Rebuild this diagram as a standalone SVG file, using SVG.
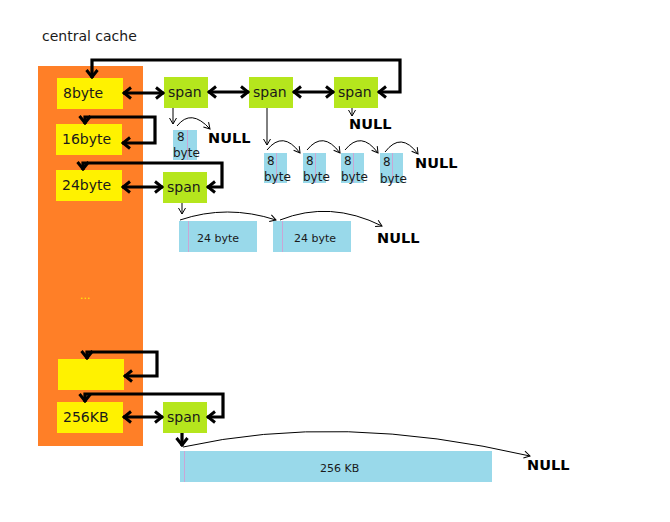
<svg xmlns="http://www.w3.org/2000/svg" width="670" height="522" viewBox="0 0 670 522">
<style>
text{font-family:"DejaVu Sans","Liberation Sans",sans-serif;fill:#1a1a1a}
.lbl{font-size:14px}
.sm{font-size:12px}
.xs{font-size:11px}
.null{font-size:14.5px;font-weight:bold;fill:#000}
.yel{fill:#fff200}
.grn{fill:#b5e61d}
.blu{fill:#99d9ea}
.pk{stroke:#c9a6d6;stroke-width:1}
.thick{fill:none;stroke:#000;stroke-width:3.2;marker-end:url(#ah);marker-start:url(#ah)}
.thin{fill:none;stroke:#000;stroke-width:1;marker-end:url(#ta)}
.down{fill:none;stroke:#000;stroke-width:3.2;marker-end:url(#ah)}
</style>
<defs>
<marker id="ah" markerUnits="userSpaceOnUse" markerWidth="12" markerHeight="14" viewBox="0 0 12 14" refX="11" refY="7" orient="auto-start-reverse">
<path d="M3,1.5 L10,7 L3,12.5" fill="none" stroke="#000" stroke-width="3"/>
</marker>
<marker id="ta" markerUnits="userSpaceOnUse" markerWidth="9" markerHeight="9" viewBox="0 0 9 9" refX="8" refY="4.5" orient="auto">
<path d="M2,1 L8,4.5 L2,8" fill="none" stroke="#000" stroke-width="1"/>
</marker>
</defs>
<text class="lbl" x="42" y="41">central cache</text>
<g id="central-cache"><rect x="38" y="66" width="105" height="380" fill="#ff7f27"/>
<text class="xs" x="80" y="299" style="fill:#fff200">...</text></g>
<g id="n8byte"><rect class="yel" x="57" y="78" width="66" height="31"/><text class="lbl" x="63" y="98">8byte</text></g>
<g id="n16byte"><rect class="yel" x="56" y="124" width="66" height="31"/><text class="lbl" x="62" y="144">16byte</text></g>
<g id="n24byte"><rect class="yel" x="56" y="170" width="66" height="31"/><text class="lbl" x="62" y="190">24byte</text></g>
<g id="nempty"><rect class="yel" x="58" y="359" width="66" height="31"/></g>
<g id="n256KB"><rect class="yel" x="57" y="402" width="66" height="31"/><text class="lbl" x="63" y="422">256KB</text></g>
<g id="span1"><rect class="grn" x="164" y="77" width="44" height="31"/><text class="lbl" x="168" y="97">span</text></g>
<g id="span2"><rect class="grn" x="249" y="77" width="44" height="31"/><text class="lbl" x="253" y="97">span</text></g>
<g id="span3"><rect class="grn" x="334" y="77" width="44" height="31"/><text class="lbl" x="338" y="97">span</text></g>
<g id="span24"><rect class="grn" x="163" y="172" width="44" height="31"/><text class="lbl" x="167" y="192">span</text></g>
<g id="span256"><rect class="grn" x="163" y="402" width="44" height="31"/><text class="lbl" x="167" y="422">span</text></g>
<g id="blk8a"><rect class="blu" x="173" y="130" width="24" height="30"/><line class="pk" x1="187.5" y1="130" x2="187.5" y2="160"/><text class="sm" x="177" y="141">8</text><text class="sm" x="173" y="157">byte</text></g>
<g id="blk8b"><rect class="blu" x="264" y="153" width="23" height="30"/><line class="pk" x1="276.5" y1="153" x2="276.5" y2="183"/><text class="sm" x="267" y="165">8</text><text class="sm" x="264" y="181">byte</text></g>
<g id="blk8c"><rect class="blu" x="303" y="153" width="23" height="30"/><line class="pk" x1="315.5" y1="153" x2="315.5" y2="183"/><text class="sm" x="306" y="165">8</text><text class="sm" x="303" y="181">byte</text></g>
<g id="blk8d"><rect class="blu" x="341" y="153" width="23" height="30"/><line class="pk" x1="353.5" y1="153" x2="353.5" y2="183"/><text class="sm" x="344" y="165">8</text><text class="sm" x="341" y="181">byte</text></g>
<g id="blk8e"><rect class="blu" x="380" y="153" width="23" height="30"/><line class="pk" x1="392.5" y1="153" x2="392.5" y2="183"/><text class="sm" x="383" y="166">8</text><text class="sm" x="380" y="183">byte</text></g>
<g id="blk24a"><rect class="blu" x="179" y="221" width="78" height="31"/><line class="pk" x1="188.5" y1="221" x2="188.5" y2="252"/><text class="xs" x="197" y="242">24 byte</text></g>
<g id="blk24b"><rect class="blu" x="273" y="221" width="78" height="31"/><line class="pk" x1="282.5" y1="221" x2="282.5" y2="252"/><text class="xs" x="294" y="242">24 byte</text></g>
<g id="blk256"><rect class="blu" x="180" y="451" width="312" height="31"/><line class="pk" x1="184.5" y1="451" x2="184.5" y2="482"/><text class="xs" x="320" y="472">256 KB</text></g>
<g id="nulls">
<text class="null" x="208" y="143">NULL</text>
<text class="null" x="349" y="129">NULL</text>
<text class="null" x="415" y="168">NULL</text>
<text class="null" x="377" y="243">NULL</text>
<text class="null" x="527" y="470">NULL</text>
</g>
<g id="connectors">
<path class="thick" d="M92,78 L92,60 L400,60 L400,92 L378,92"/>
<path class="thick" d="M123,93 L164,93"/>
<path class="thick" d="M208,92 L249,92"/>
<path class="thick" d="M293,92 L334,92"/>
<path class="thick" d="M85,124 L85,117 L155,117 L155,143 L122,143"/>
<path class="thick" d="M83,170 L83,163 L222,163 L222,187 L207,187"/>
<path class="thick" d="M122,187 L163,187"/>
<path class="thick" d="M87,359 L87,352 L157,352 L157,376 L124,376"/>
<path class="thick" d="M85,402 L85,394 L223,394 L223,417 L207,417"/>
<path class="thick" d="M123,417 L163,417"/>
<path class="down" d="M182,433 L182,446"/>
<path class="thin" d="M173,108 L173,124"/>
<path class="thin" d="M177,126 Q191,108 210,129"/>
<path class="thin" d="M267,108 L267,145"/>
<path class="thin" d="M267,150 Q283,130 300,153"/>
<path class="thin" d="M307,150 Q323,130 340,153"/>
<path class="thin" d="M345,150 Q361,130 378,153"/>
<path class="thin" d="M385,152 Q401,131 418,154"/>
<path class="thin" d="M352,108 L352,116"/>
<path class="thin" d="M182,203 L182,214"/>
<path class="thin" d="M180,220 Q227,204 276,220"/>
<path class="thin" d="M280,220 Q330,200 382,226"/>
<path class="thin" d="M183,447 Q340,412 530,456"/>
</g>
</svg>
